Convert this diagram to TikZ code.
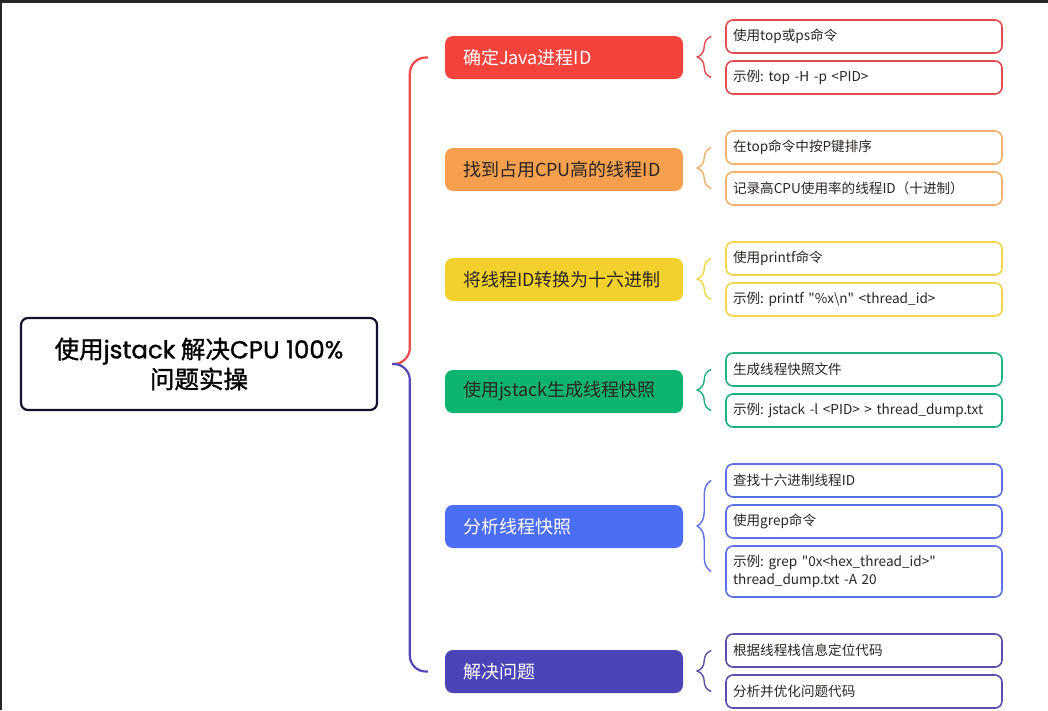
\documentclass[tikz,border=0pt]{standalone}
\usepackage{fontspec}
\setmainfont{Noto Sans CJK SC}
\newfontfamily\rootcjk{Noto Sans CJK SC}[FakeBold=1.2]
\newfontfamily\popfont{Poppins}[FakeBold=1.2]
\usepackage{tikz}
\usetikzlibrary{decorations.pathreplacing}
\usetikzlibrary{calc}
\newcommand\dq{\XeTeXglyph\XeTeXcharglyph"0022\relax}

\definecolor{rootline}{HTML}{12112E}
\definecolor{darktext}{HTML}{2B2623}
\definecolor{frame}{HTML}{262626}
\definecolor{c1}{HTML}{F4433C}
\definecolor{c2}{HTML}{F5A04F}
\definecolor{c3}{HTML}{F2D12C}
\definecolor{c4}{HTML}{0DB46F}
\definecolor{c5}{HTML}{4C6EF5}
\definecolor{c6}{HTML}{4B44B9}
\definecolor{e1}{HTML}{E24B52}
\definecolor{e2}{HTML}{F1B070}
\definecolor{e3}{HTML}{EFD64A}
\definecolor{e4}{HTML}{1FB07C}
\definecolor{e5}{HTML}{5C6FE4}
\definecolor{e6}{HTML}{5B4DA8}
\definecolor{redline}{HTML}{E94B4B}
\definecolor{purpleline}{HTML}{5549B9}

\begin{document}
\frenchspacing
\begin{tikzpicture}[x=1pt, y=-1pt,
    root/.style={draw=rootline, line width=2.2pt, rounded corners=7pt, minimum width=356pt, minimum height=92pt, align=center, text=black, font=\rootcjk\fontsize{24.5}{30}\selectfont},
    topic/.style={rounded corners=8pt, minimum height=43pt, text width=202pt, inner xsep=18pt, align=left, font=\fontsize{18}{20}\selectfont},
    leaf/.style={draw, fill=white, line width=1.6pt, rounded corners=7pt, minimum height=33pt, text width=262pt, inner xsep=7pt, align=left, text=darktext, font=\fontsize{13.6}{18}\selectfont},
    brace/.style={decorate, decoration={brace, amplitude=14pt}, line width=1.4pt},
    bigline/.style={line width=2.2pt, rounded corners=16pt}]
        \useasboundingbox (0,0) rectangle (1048,710);
        \fill[white] (0,0) rectangle (1048,710);
        \fill[frame] (0,0) rectangle (1048,2.5);
        \fill[frame] (0,0) rectangle (1.5,710);

        \node[root] (root) at (199,364) {使用{\popfont jstack} 解决{\popfont CPU 100\%}\\问题实操};

        \node[topic, fill=c1, text=white] (t1) at (564,57.5) {确定Java进程ID};
        \node[topic, fill=c2, text=darktext] (t2) at (564,169.5) {找到占用CPU高的线程ID};
        \node[topic, fill=c3, text=darktext] (t3) at (564,279.5) {将线程ID转换为十六进制};
        \node[topic, fill=c4, text=darktext] (t4) at (564,391.5) {使用jstack生成线程快照};
        \node[topic, fill=c5, text=white] (t5) at (564,526.5) {分析线程快照};
        \node[topic, fill=c6, text=white] (t6) at (564,671.5) {解决问题};

        \node[leaf, draw=e1] (l1a) at (864,36.5) {使用top或ps命令};
        \node[leaf, draw=e1] (l1b) at (864,77.5) {示例: top -H -p <PID>};

        \node[leaf, draw=e2] (l2a) at (864,147.5) {在top命令中按P键排序};
        \node[leaf, draw=e2] (l2b) at (864,188.5) {记录高CPU使用率的线程ID（十进制）};

        \node[leaf, draw=e3] (l3a) at (864,258.5) {使用printf命令};
        \node[leaf, draw=e3] (l3b) at (864,299.5) {示例: printf \dq\%x\textbackslash n\dq{} <thread\_id>};

        \node[leaf, draw=e4] (l4a) at (864,369.5) {生成线程快照文件};
        \node[leaf, draw=e4] (l4b) at (864,410.5) {示例: jstack -l <PID> > thread\_dump.txt};

        \node[leaf, draw=e5] (l5a) at (864,480.5) {查找十六进制线程ID};
        \node[leaf, draw=e5] (l5b) at (864,521.5) {使用grep命令};
        \node[leaf, draw=e5, minimum height=51pt] (l5c) at (864,571.5) {示例: grep \dq 0x<hex\_thread\_id>\dq\\thread\_dump.txt -A 20};

        \node[leaf, draw=e6] (l6a) at (864,650.5) {根据线程栈信息定位代码};
        \node[leaf, draw=e6] (l6b) at (864,691.5) {分析并优化问题代码};

        % root to topics
        \coordinate (rj) at ([xshift=14pt]root.east);
        \draw[bigline, draw=redline] (rj) -| ([xshift=-35pt]t1.west) -- ([xshift=-17pt]t1.west);
        \draw[bigline, draw=purpleline] (rj) -| ([xshift=-35pt]t6.west) -- ([xshift=-17pt]t6.west);

        % topics to leaves
        \draw[brace, draw=e1] ([xshift=-14pt]l1b.west) -- ([xshift=-14pt]l1a.west);
        \draw[brace, draw=e2] ([xshift=-14pt]l2b.west) -- ([xshift=-14pt]l2a.west);
        \draw[brace, draw=e3] ([xshift=-14pt]l3b.west) -- ([xshift=-14pt]l3a.west);
        \draw[brace, draw=e4] ([xshift=-14pt]l4b.west) -- ([xshift=-14pt]l4a.west);
        \draw[brace, draw=e5] ([xshift=-14pt]l5c.west) -- ([xshift=-14pt]l5a.west);
        \draw[brace, draw=e6] ([xshift=-14pt]l6b.west) -- ([xshift=-14pt]l6a.west);
      \end{tikzpicture}
\end{document}
